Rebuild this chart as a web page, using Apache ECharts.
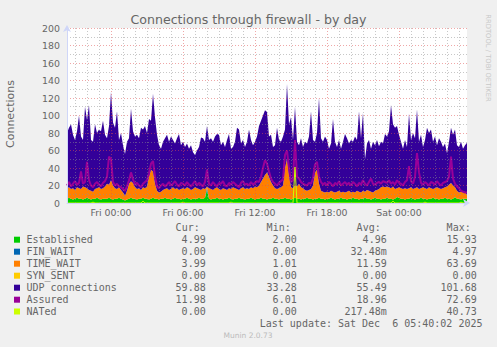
<!DOCTYPE html>
<html>
<head>
<meta charset="utf-8">
<script src="https://cdn.jsdelivr.net/npm/echarts@6/dist/echarts.min.js"></script>
<style>
html,body{margin:0;padding:0;background:#F0F0F0;}
#chart{width:497px;height:347px;}
</style>
</head>
<body>
<div id="chart"></div>
<script>
// ---- time axis: 5-min consolidated samples shown every 10 minutes, Thu 20:20 .. Sat 05:40
const dayNames = ['Thu', 'Fri', 'Sat'];
const startMinute = 20 * 60 + 20;
const stepMinutes = 10;
const pointCount = 201;
const tickLabels = ['Fri 00:00', 'Fri 06:00', 'Fri 12:00', 'Fri 18:00', 'Sat 00:00'];
const yTicks = [0, 20, 40, 60, 80, 100, 120, 140, 160, 180, 200];

const times = [];
for (let i = 0; i < pointCount; i++) {
  const m = startMinute + i * stepMinutes;
  const d = Math.floor(m / 1440), mm = m % 1440;
  times.push(dayNames[d] + ' ' + String(Math.floor(mm / 60)).padStart(2, '0') + ':' + String(mm % 60).padStart(2, '0'));
}

// ---- series values
const established = [
 5,6,5,4,5,6,5,5,4,5, 6,5,4,5,5,6,5,4,5,5, 5,6,5,4,5,5,6,5,4,3, 4,5,6,5,5,4,5,5,6,5,
 5,4,5,6,5,5,4,5,5,6, 5,5,4,5,6,5,5,4,5,5, 6,5,4,5,5,5,6,5,5,6, 15,5,4,5,5,6,5,5,4,5,
 5,6,5,4,5,5,6,5,5,4, 5,5,6,5,4,5,5,6,5,5, 4,5,5,6,5,5,4,5,5,6, 5,5,4,5,6,5,5,4,5,5,
 6,5,5,4,5,5,6,5,5,4, 5,5,6,5,4,5,5,6,5,5, 4,5,5,6,5,5,4,5,5,6, 5,5,4,5,6,5,5,4,5,5,
 6,5,5,4,5,7,6,5,5,4, 5,5,6,5,4,5,5,6,5,5, 4,5,5,6,5,5,4,5,5,6, 5,5,4,5,7,5,5,4,5,5,
 5];
const finWait = [
 0,0,0,0,0,0,0,0,0,0, 0,0,0,0,0,0,0,0,0,0, 0,0,0,0,0,0,0,0,0,0, 0,0,0,0,0,0,0,0,0,0,
 0,0,0,0,0,0,0,0,0,0, 0,0,0,0,0,0,0,0,0,0, 0,0,0,0,0,0,0,0,0,0, 3,0,0,0,0,0,0,0,0,0,
 0,0,0,0,0,0,0,0,0,0, 0,0,0,0,0,0,0,0,0,0, 0,0,0,0,0,0,0,0,0,0, 0,0,0,0,0,0,0,0,0,0,
 0,0,0,0,0,0,0,0,0,0, 0,0,0,0,0,0,0,0,0,0, 0,0,0,0,0,0,0,0,0,0, 0,0,0,0,0,0,0,0,0,0,
 0,0,0,0,0,0,0,0,0,0, 0,0,0,0,0,0,0,0,0,0, 0,0,0,0,0,0,0,0,0,0, 0,0,0,0,0,0,0,0,0,0,
 0];
const timeWait = [
 12,12,11,13,10,12,12,11,15,13, 11,10,10,8,11,11,13,12,12,14, 17,15,21,16,12,11,12,10,8,5, 10,17,19,18,13,12,12,10,12,12,
 14,26,33,30,17,9,8,8,10,10, 12,10,12,13,10,12,10,12,12,11, 12,12,11,11,13,12,10,10,12,10, 1,12,12,10,12,12,11,10,13,11,
 10,11,11,14,12,11,9,12,13,12, 12,11,12,12,15,13,15,18,23,27, 31,25,19,14,12,11,13,13,15,34, 45,27,14,12,14,14,17,14,12,10,
 8,10,11,16,30,33,16,9,8,8, 8,7,8,8,8,8,9,6,8,7, 9,9,7,7,7,9,9,7,9,7, 10,9,9,7,8,10,11,14,14,13,
 13,13,12,15,11,10,12,12,11,13, 11,12,12,11,13,13,11,11,13,12, 12,13,12,10,12,13,13,11,12,12, 14,16,19,15,11,9,7,9,7,8,
 4];
const synSent = [
 0,0,0,0,0,0,0,0,0,0, 0,0,0,0,0,0,0,0,0,0, 0,0,0,0,0,0,0,0,0,0, 0,0,0,0,0,0,0,0,0,0,
 0,0,0,0,0,0,0,0,0,0, 0,0,0,0,0,0,0,0,0,0, 0,0,0,0,0,0,0,0,0,0, 0,0,0,0,0,0,0,0,0,0,
 0,0,0,0,0,0,0,0,0,0, 0,0,0,0,0,0,0,0,0,0, 0,0,0,0,0,0,0,0,0,0, 0,0,0,0,0,0,0,0,0,0,
 0,0,0,0,0,0,0,0,0,0, 0,0,0,0,0,0,0,0,0,0, 0,0,0,0,0,0,0,0,0,0, 0,0,0,0,0,0,0,0,0,0,
 0,0,0,0,0,0,0,0,0,0, 0,0,0,0,0,0,0,0,0,0, 0,0,0,0,0,0,0,0,0,0, 0,0,0,0,0,0,0,0,0,0,
 0];
const udp = [
 63,68,74,61,57,64,83,60,53,92, 78,97,58,57,74,63,66,66,77,59, 52,67,101,72,69,89,54,65,54,48, 56,52,83,59,58,62,57,71,66,71,
 61,66,56,89,76,64,54,49,55,58, 61,55,60,54,52,57,64,50,53,48, 50,45,51,42,37,43,48,60,57,54, 69,55,58,55,59,61,62,51,53,48,
 57,62,46,46,53,70,69,51,54,48, 53,68,54,49,51,58,68,70,72,74, 69,46,54,44,49,70,55,52,56,44, 86,58,80,55,90,51,44,56,47,55,
 54,61,89,52,35,42,98,60,57,64, 59,50,54,83,58,51,58,50,57,67, 61,54,60,57,64,58,92,62,89,37, 53,58,49,58,52,57,49,52,49,61,
 57,64,95,71,70,71,60,53,46,55, 48,85,54,64,57,89,54,61,46,55, 70,62,67,54,59,48,57,54,47,50, 38,49,63,58,66,52,52,57,50,53,
 60];
const assured = [
 20,24,19,22,25,21,23,36,22,24, 47,26,20,18,22,24,21,19,23,25, 30,53,50,24,20,22,19,18,16,14, 19,26,35,27,21,23,20,18,22,24,
 26,34,45,48,30,19,17,20,22,19, 21,24,20,22,25,21,19,23,22,20, 24,21,19,22,25,20,23,21,19,24, 38,22,20,24,21,19,23,22,25,20,
 19,23,21,24,22,20,18,23,25,21, 22,20,24,21,23,25,24,30,40,49, 45,36,28,24,22,20,23,25,27,55, 60,40,24,26,72,30,28,24,22,21,
 20,23,22,28,44,47,30,24,21,23, 20,24,22,19,23,21,25,20,22,24, 21,23,20,24,22,19,23,21,26,22, 20,24,28,22,21,23,24,22,25,24,
 23,26,22,24,21,26,23,22,20,24, 26,42,25,22,30,57,35,23,21,24, 22,20,24,23,21,25,22,20,23,24, 25,30,53,28,22,19,17,14,13,12,
 12];
const nated = [
 0,0,0,0,0,0,0,0,0,0, 0,0,0,1,0,0,0,0,0,0, 0,0,0,0,0,0,0,0,0,0, 0,0,0,0,0,0,0,0,2,0,
 0,0,0,0,0,0,0,0,0,0, 0,0,0,0,0,0,0,0,1,0, 0,0,0,0,0,0,0,0,0,0, 0,0,0,0,0,0,0,0,0,0,
 0,0,1,0,0,0,0,0,0,0, 0,0,0,0,0,0,0,0,0,0, 0,0,0,0,0,0,0,0,0,0, 0,0,0,0,41,0,0,0,0,0,
 0,0,0,0,0,0,0,0,0,0, 0,0,0,0,0,0,0,0,0,0, 0,0,0,0,0,0,0,0,0,0, 0,0,0,0,0,0,0,0,0,0,
 0,0,0,2,0,0,0,0,0,0, 0,0,0,0,0,0,0,0,0,1, 0,0,0,0,0,0,0,0,0,0, 0,0,0,0,0,0,0,1,0,0,
 0];

// ---- legend table
const legendNames = ['Established', 'FIN_WAIT', 'TIME_WAIT', 'SYN_SENT', 'UDP connections', 'Assured', 'NATed'];
const seriesColors = ['#00CC00', '#0066B3', '#FF8000', '#FFCC00', '#330099', '#990099', '#CCFF00'];
const columnHeaders = ['Cur:', 'Min:', 'Avg:', 'Max:'];
const curVals = ['4.99', '0.00', '3.99', '0.00', '59.88', '11.98', '0.00'];
const minVals = ['2.00', '0.00', '1.01', '0.00', '33.28', '6.01', '0.00'];
const avgVals = ['4.96', '32.48m', '11.59', '0.00', '55.49', '18.96', '217.48m'];
const maxVals = ['15.93', '4.97', '63.69', '0.00', '101.68', '72.69', '40.73'];
const lastUpdate = 'Last update: Sat Dec \u00A06 05:40:02 2025';

// ---- build chart
const chart = echarts.init(document.getElementById('chart'), null, {renderer: 'svg'});
const sans = 'DejaVu Sans';
const mono = 'DejaVu Sans Mono';
const textGrey = '#666666';
const axisColor = '#CFD6F8';
const minorGrid = 'rgba(144,144,144,0.5)';
const majorGrid = 'rgba(224,80,80,0.5)';

const stackedData = [established, finWait, timeWait, synSent, udp];
const series = stackedData.map((d, k) => ({
  name: legendNames[k === 4 ? 4 : k], type: 'line', stack: 'total', data: d,
  symbol: 'none', showSymbol: false, smooth: false, silent: true,
  lineStyle: {width: 0, color: seriesColors[k]},
  areaStyle: {color: seriesColors[k], opacity: 1},
  itemStyle: {color: seriesColors[k]}, z: 2
}));
series.push({name: legendNames[5], type: 'line', data: assured, symbol: 'none', showSymbol: false, silent: true,
  lineStyle: {width: 2, color: seriesColors[5]}, itemStyle: {color: seriesColors[5]}, z: 3});
series.push({name: legendNames[6], type: 'line', data: nated, symbol: 'none', showSymbol: false, silent: true,
  lineStyle: {width: 1, color: seriesColors[6]}, itemStyle: {color: seriesColors[6]}, z: 4});

// legend graphics
const graphics = [];
const rowY = [239.7, 251.7, 263.7, 275.7, 287.7, 299.7, 311.5];
const colRight = [205.7, 296.7, 386.7, 476.7];
const legendFont = {fontFamily: mono, fontSize: 10, fill: textGrey};
columnHeaders.forEach((h, c) => {
  graphics.push({type: 'text', x: colRight[c] - 6, y: 227.5, style: Object.assign({text: h, textAlign: 'right', textVerticalAlign: 'middle'}, legendFont)});
});
const valueCols = [curVals, minVals, avgVals, maxVals];
legendNames.forEach((n, r) => {
  graphics.push({type: 'rect', shape: {x: 14, y: rowY[r] - 3, width: 6, height: 6}, style: {fill: seriesColors[r]}});
  graphics.push({type: 'text', x: 26.5, y: rowY[r], style: Object.assign({text: n, textAlign: 'left', textVerticalAlign: 'middle'}, legendFont)});
  valueCols.forEach((vals, c) => {
    graphics.push({type: 'text', x: colRight[c], y: rowY[r], style: Object.assign({text: vals[r], textAlign: 'right', textVerticalAlign: 'middle'}, legendFont)});
  });
});
graphics.push({type: 'text', x: 482.5, y: 323.7, style: Object.assign({text: lastUpdate, textAlign: 'right', textVerticalAlign: 'middle'}, legendFont)});
graphics.push({type: 'text', x: 248, y: 335.7, style: {text: 'Munin 2.0.73', textAlign: 'center', textVerticalAlign: 'middle', fontFamily: sans, fontSize: 7.5, fill: '#BBBBBB'}});
graphics.push({type: 'text', x: 10.5, y: 114, rotation: Math.PI / 2, style: {text: 'Connections', textAlign: 'center', textVerticalAlign: 'middle', fontFamily: sans, fontSize: 11, fill: textGrey}});
graphics.push({type: 'text', x: 488, y: 58, rotation: -Math.PI / 2, style: {text: 'RRDTOOL / TOBI OETIKER', textAlign: 'center', textVerticalAlign: 'middle', fontFamily: sans, fontSize: 6.8, fill: '#C8C8C8'}});
graphics.push({type: 'text', x: 248.5, y: 19.5, style: {text: 'Connections through firewall - by day', textAlign: 'center', textVerticalAlign: 'middle', fontFamily: sans, fontSize: 12.6, fill: textGrey}});

chart.setOption({
  animation: false,
  backgroundColor: '#F0F0F0',
  grid: {left: 67, top: 28, width: 400, height: 175, backgroundColor: '#FFFFFF', show: true, borderWidth: 0},
  xAxis: [{
    type: 'category', data: times, boundaryGap: false, z: 5,
    axisLine: {show: true, lineStyle: {color: axisColor, width: 1}, symbol: ['none', 'arrow'], symbolSize: [6, 7], symbolOffset: [0, 3]},
    axisTick: {show: false},
    axisLabel: {interval: (i, v) => tickLabels.includes(v), color: textGrey, fontFamily: sans, fontSize: 9.4, margin: 5},
    splitLine: {show: true, interval: (i, v) => v.endsWith(':00') && !tickLabels.includes(v), lineStyle: {color: minorGrid, type: [1, 2], width: 1}}
  }, {
    type: 'category', data: times, boundaryGap: false, z: 6, position: 'bottom',
    axisLine: {show: false}, axisTick: {show: false}, axisLabel: {show: false},
    splitLine: {show: true, interval: (i, v) => tickLabels.includes(v), lineStyle: {color: majorGrid, type: [1, 2], width: 1}}
  }],
  yAxis: [{
    type: 'value', min: yTicks[0], max: yTicks[yTicks.length - 1], interval: 20, z: 5,
    axisLine: {show: true, lineStyle: {color: axisColor, width: 1}, symbol: ['none', 'arrow'], symbolSize: [6, 7], symbolOffset: [0, 3]},
    axisTick: {show: false},
    axisLabel: {color: textGrey, fontFamily: sans, fontSize: 9.4, margin: 7},
    splitLine: {show: true, lineStyle: {color: majorGrid, type: [1, 2], width: 1}},
    minorTick: {show: false, splitNumber: 2},
    minorSplitLine: {show: true, lineStyle: {color: minorGrid, type: [1, 2], width: 1}}
  }],
  series: series,
  graphic: graphics
});
</script>
</body>
</html>
